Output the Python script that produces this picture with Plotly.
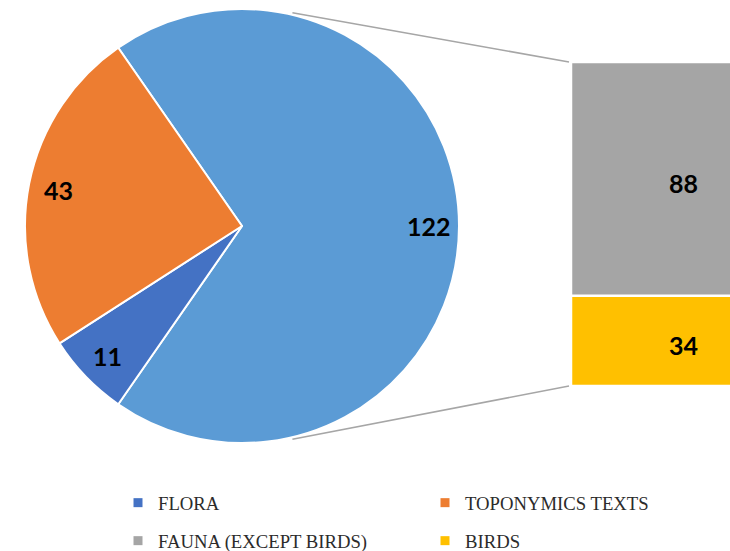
import math
import plotly.graph_objects as go

# ---- data ----
pie_labels = ["FAUNA + BIRDS", "FLORA", "TOPONYMICS TEXTS"]
pie_values = [122, 11, 43]
pie_colors = ["#5B9BD5", "#4472C4", "#ED7D31"]

bar_labels = ["BIRDS", "FAUNA (EXCEPT BIRDS)"]
bar_values = [34, 88]
bar_colors = ["#FFC000", "#A5A5A5"]

legend_names = ["FLORA", "TOPONYMICS TEXTS", "FAUNA (EXCEPT BIRDS)", "BIRDS"]
legend_colors = ["#4472C4", "#ED7D31", "#A5A5A5", "#FFC000"]

# ---- geometry ----
W, H = 730, 551
cx, cy, R = 242, 226, 217
bar_left, bar_top, bar_bottom = 571, 62, 386

total = sum(pie_values)
rotation = 90 - (pie_values[0] / total * 360) / 2

label_font = dict(family="Lato", size=25, color="black", weight="bold")

fig = go.Figure()

fig.add_trace(go.Pie(
    labels=pie_labels, values=pie_values, sort=False, direction="clockwise",
    rotation=rotation, textinfo="none", showlegend=False,
    marker=dict(colors=pie_colors, line=dict(color="white", width=2)),
    domain=dict(x=[(cx - R) / W, (cx + R) / W], y=[1 - (cy + R) / H, 1 - (cy - R) / H]),
))

# stacked bar
base = 0
for lab, v, c in zip(bar_labels, bar_values, bar_colors):
    fig.add_trace(go.Bar(
        x=[0], y=[v], base=[base], width=1, name=lab, showlegend=False,
        marker=dict(color=c, line=dict(color="white", width=2.5)),
        xaxis="x", yaxis="y",
    ))
    base += v

# bar value labels
b = 0
for v in bar_values:
    fig.add_annotation(x=0, y=b + v / 2, xref="x", yref="y", text=str(v),
                       showarrow=False, xanchor="center", yanchor="middle",
                       yshift=-4, font=label_font)
    b += v

# pie value labels
cum = 0
for v in pie_values:
    theta = math.radians(rotation + (cum + v / 2) / total * 360)
    r = 0.86 * R
    px = cx + r * math.sin(theta)
    py = cy - r * math.cos(theta)
    fig.add_annotation(x=px / W, y=1 - py / H, xref="paper", yref="paper",
                       text=str(v), showarrow=False, xanchor="center", yanchor="middle",
                       font=label_font)
    cum += v

# connector lines
for sgn, by in [(1, bar_top), (-1, bar_bottom)]:
    ang = math.radians(76.7)
    sx = cx + 1.01 * R * math.cos(ang)
    sy = cy - sgn * 1.01 * R * math.sin(ang)
    fig.add_shape(type="line", xref="paper", yref="paper",
                  x0=sx / W, y0=1 - sy / H, x1=(bar_left - 2) / W, y1=1 - by / H,
                  line=dict(color="#A6A6A6", width=1.5))

# legend entries: one legend per entry (2 x 2 grid)
legend_ids = ["legend", "legend2", "legend3", "legend4"]
legend_pos = [(118, 503), (425, 503), (118, 541), (425, 541)]
for n, c, lg in zip(legend_names, legend_colors, legend_ids):
    fig.add_trace(go.Scatter(
        x=[None], y=[None], mode="markers", name=n, legend=lg,
        marker=dict(symbol="square", size=9, color=c),
        xaxis="x", yaxis="y",
    ))

legend_common = dict(orientation="h", xref="paper", yref="paper", xanchor="left",
                     yanchor="middle",
                     font=dict(family="Liberation Serif", size=18.7, color="#2b2b2b"),
                     bgcolor="rgba(0,0,0,0)", itemclick=False, itemdoubleclick=False)

layout_legends = {}
for lg, (lx, ly) in zip(legend_ids, legend_pos):
    layout_legends[lg] = dict(x=lx / W, y=1 - ly / H, **legend_common)

fig.update_layout(
    width=W, height=H, margin=dict(l=0, r=0, t=0, b=0, autoexpand=False),
    paper_bgcolor="white", plot_bgcolor="white",
    barmode="overlay",
    xaxis=dict(domain=[bar_left / W, 1], range=[-0.5, -0.5 + (W - bar_left) / 224],
               visible=False, fixedrange=True),
    yaxis=dict(domain=[1 - bar_bottom / H, 1 - bar_top / H], range=[0, sum(bar_values)],
               visible=False, fixedrange=True),
    showlegend=True,
    **layout_legends,
)

fig.write_html("out.html")
